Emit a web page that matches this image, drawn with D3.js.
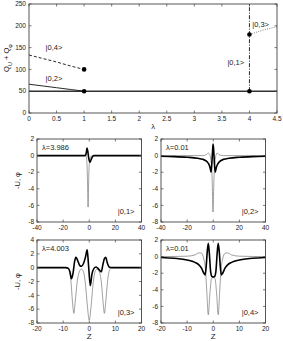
<!DOCTYPE html>
<html>
<head>
<meta charset="utf-8">
<script src="https://cdn.jsdelivr.net/npm/d3@7"></script>
<style>
  body { margin: 0; background: #fff; }
  svg { display: block; font-family: "Liberation Sans", Arial, sans-serif; }
</style>
</head>
<body>
<svg id="chart" width="283" height="341"></svg>
<script>
// Top panel: Q_U + Q_phi versus lambda for the |0,n> branches.
const lambdaTicks = [0, 0.5, 1, 1.5, 2, 2.5, 3, 3.5, 4, 4.5];
const qTicks = [0, 50, 100, 150, 200, 250];
const qBase = [[0, 50], [4.5, 50]];
const q02 = [[0, 66], [0.25, 62], [0.5, 58], [0.75, 54], [1, 50]];
const q04 = [[0, 133], [0.25, 125], [0.5, 117], [0.75, 108], [1, 100]];
const q01 = [[4, 50], [4, 250]];
const q03 = [[4, 180], [4.25, 190], [4.5, 198]];
const qDots = [[1, 100], [1, 50], [4, 50], [4, 180]];
const qLabels = [
  { text: "|0,4>", x: 0.3, y: 150 },
  { text: "|0,2>", x: 0.3, y: 80 },
  { text: "|0,1>", x: 3.6, y: 116 },
  { text: "|0,3>", x: 4.05, y: 203 }
];

// Lower panels: profiles -U (thick) and phi (thin) against z.
const zTicksWide = [-40, -20, 0, 20, 40];
const zTicksNarrow = [-20, -10, 0, 10, 20];
const uTicks2 = [2, 0, -2, -4, -6, -8];
const uTicks4 = [4, 2, 0, -2, -4, -6, -8];

const u01 = [[-40, 0], [-4, 0], [-2.8, 0.05], [-2.2, 0.4], [-1.7, 0.9], [-1.1, 0.5], [-0.3, -0.4], [0.6, -0.8], [1.4, -0.5], [2.4, -0.15], [3.5, 0], [40, 0]];
const p01 = [[-40, 0], [-4, 0], [-2.6, 0.05], [-1.9, -0.6], [-1.4, -2.6], [-0.9, -6.2], [-0.4, -2.6], [0.2, -0.7], [1.2, -0.1], [3, 0], [40, 0]];

const u02 = [[-40, -0.08], [-30, -0.12], [-20, -0.2], [-12, -0.32], [-8, -0.45], [-5, -0.7], [-3.5, -1.0], [-2.5, -1.4], [-1.7, -2.0], [-1.1, -1.0], [-0.5, 0.6], [-0.1, 1.4], [0.4, 0.5], [0.9, -1.0], [1.5, -2.0], [2.4, -1.4], [3.5, -1.0], [5, -0.7], [8, -0.45], [12, -0.32], [20, -0.2], [30, -0.12], [40, -0.08]];
const p02 = [[-40, 0], [-8, 0], [-5.5, 0.1], [-3.8, 0.3], [-2.6, 0.1], [-1.6, -0.8], [-0.8, -3], [-0.2, -6.8], [0.5, -3], [1.3, -0.8], [2.2, 0.1], [3, 0.3], [4.5, 0.1], [8, 0], [40, 0]];

const u03 = [[-20, 0], [-9, 0], [-8, -0.1], [-7.4, -0.6], [-6.8, -1.6], [-6.2, -0.8], [-5.6, 0.9], [-5.1, 1.5], [-4.5, 1.1], [-3.6, 0.3], [-3, 0.2], [-2.2, 0.6], [-1.4, 1.6], [-0.8, 2.6], [-0.3, 0.5], [0.4, -2.6], [1, -1.0], [1.8, -0.1], [2.6, 0.1], [3.6, -0.2], [4.6, -0.6], [5.2, 0.4], [5.8, 1.3], [6.3, 1.5], [6.9, 0.7], [7.6, 0.1], [8.6, 0], [20, 0]];
const p03 = [[-20, 0], [-8.5, 0], [-7.8, -0.3], [-7, -2], [-6.4, -5], [-5.9, -6.6], [-5.4, -5], [-4.6, -2], [-3.8, -0.6], [-3, -0.2], [-2.2, -0.6], [-1.4, -2.6], [-0.7, -5.6], [0, -7.6], [0.7, -5.6], [1.4, -2.6], [2.2, -0.6], [3, -0.2], [3.8, -0.6], [4.6, -2], [5.3, -5], [5.8, -6.6], [6.3, -5], [7, -2], [7.8, -0.3], [8.5, 0], [20, 0]];

const u04 = [[-20, -0.1], [-15, -0.2], [-10, -0.4], [-7, -0.7], [-5.5, -1.0], [-4.5, -1.4], [-3.6, -2.0], [-3.1, -2.2], [-2.7, -1.2], [-2.3, 0.6], [-1.9, 1.6], [-1.5, 0.4], [-1.0, -1.8], [-0.5, -2.4], [0, -2.45], [0.5, -2.4], [1.0, -1.8], [1.5, 0.4], [1.9, 1.6], [2.3, 0.6], [2.7, -1.2], [3.1, -2.2], [3.6, -2.0], [4.5, -1.4], [5.5, -1.0], [7, -0.7], [10, -0.4], [15, -0.2], [20, -0.1]];
const p04 = [[-20, 0], [-10, 0.05], [-7, 0.2], [-5.5, 0.45], [-4.5, 0.4], [-3.6, -0.3], [-3, -1.5], [-2.5, -4], [-1.9, -7], [-1.3, -4.5], [-0.7, -2.7], [0, -2.5], [0.7, -2.7], [1.3, -4.5], [1.9, -7], [2.5, -4], [3, -1.5], [3.6, -0.3], [4.5, 0.4], [5.5, 0.45], [7, 0.2], [10, 0.05], [20, 0]];

const panels = [
  { x0: 37, y0: 139, zDomain: [-40, 40], uDomain: [-8, 2], zTicks: zTicksWide, uTicks: uTicks2, u: u01, p: p01, lam: "\u03bb=3.986", state: "|0,1>", ylabel: true, xlabel: false },
  { x0: 161, y0: 139, zDomain: [-40, 40], uDomain: [-8, 2], zTicks: zTicksWide, uTicks: uTicks2, u: u02, p: p02, lam: "\u03bb=0.01", state: "|0,2>", ylabel: false, xlabel: false },
  { x0: 37, y0: 240, zDomain: [-20, 20], uDomain: [-8, 4], zTicks: zTicksNarrow, uTicks: uTicks4, u: u03, p: p03, lam: "\u03bb=4.003", state: "|0,3>", ylabel: true, xlabel: true },
  { x0: 161, y0: 240, zDomain: [-20, 20], uDomain: [-8, 2], zTicks: zTicksNarrow, uTicks: uTicks2, u: u04, p: p04, lam: "\u03bb=0.01", state: "|0,4>", ylabel: false, xlabel: true }
];

const svg = d3.select("#chart");
const axisColor = "#444";
const tickFont = 6.5;
const labelFont = 7.5;

// draw box with inward ticks on all four sides, matlab style
function frame(g, x, y, xTicks, yTicks, fmtX) {
  const [xa, xb] = x.range();
  const [yb, ya] = y.range();
  g.append("rect")
    .attr("x", xa).attr("y", ya)
    .attr("width", xb - xa).attr("height", yb - ya)
    .attr("fill", "none").attr("stroke", axisColor).attr("stroke-width", 0.9);

  const tl = 2.5;
  xTicks.forEach(t => {
    const px = x(t);
    g.append("line").attr("x1", px).attr("x2", px).attr("y1", yb).attr("y2", yb - tl)
      .attr("stroke", axisColor).attr("stroke-width", 0.7);
    g.append("line").attr("x1", px).attr("x2", px).attr("y1", ya).attr("y2", ya + tl)
      .attr("stroke", axisColor).attr("stroke-width", 0.7);
    g.append("text").attr("x", px).attr("y", yb + 7.5)
      .attr("text-anchor", "middle").attr("font-size", tickFont).attr("fill", "#222")
      .text(fmtX ? fmtX(t) : t);
  });
  yTicks.forEach(t => {
    const py = y(t);
    g.append("line").attr("x1", xa).attr("x2", xa + tl).attr("y1", py).attr("y2", py)
      .attr("stroke", axisColor).attr("stroke-width", 0.7);
    g.append("line").attr("x1", xb).attr("x2", xb - tl).attr("y1", py).attr("y2", py)
      .attr("stroke", axisColor).attr("stroke-width", 0.7);
    g.append("text").attr("x", xa - 3).attr("y", py).attr("dy", "0.35em")
      .attr("text-anchor", "end").attr("font-size", tickFont).attr("fill", "#222")
      .text(t);
  });
}

// ---- top panel ----
const xL = d3.scaleLinear().domain([0, 4.5]).range([29, 277]);
const yQ = d3.scaleLinear().domain([0, 250]).range([113, 4]);
const topG = svg.append("g");
const qLine = d3.line().x(d => xL(d[0])).y(d => yQ(d[1])).curve(d3.curveMonotoneX);
const qLineStraight = d3.line().x(d => xL(d[0])).y(d => yQ(d[1]));

topG.append("path").attr("d", qLine(qBase)).attr("fill", "none").attr("stroke", "#333").attr("stroke-width", 1.6);
topG.append("path").attr("d", qLine(q02)).attr("fill", "none").attr("stroke", "#111").attr("stroke-width", 0.9);
topG.append("path").attr("d", qLine(q04)).attr("fill", "none").attr("stroke", "#111").attr("stroke-width", 0.9).attr("stroke-dasharray", "3,2");
topG.append("path").attr("d", qLineStraight(q01)).attr("fill", "none").attr("stroke", "#111").attr("stroke-width", 0.9).attr("stroke-dasharray", "4,1.5,1,1.5");
topG.append("path").attr("d", qLine(q03)).attr("fill", "none").attr("stroke", "#666").attr("stroke-width", 0.8).attr("stroke-dasharray", "1,1.3");

frame(topG, xL, yQ, lambdaTicks, qTicks);

topG.selectAll(".dot").data(qDots).join("circle")
  .attr("cx", d => xL(d[0])).attr("cy", d => yQ(d[1])).attr("r", 2.3).attr("fill", "#000");

topG.selectAll(".qlab").data(qLabels).join("text")
  .attr("x", d => xL(d.x)).attr("y", d => yQ(d.y)).attr("dy", "0.35em")
  .attr("font-size", labelFont).attr("fill", "#222").text(d => d.text);

topG.append("text").attr("x", 153).attr("y", 129).attr("text-anchor", "middle")
  .attr("font-size", labelFont).attr("fill", "#222").text("\u03bb");

const qy = topG.append("text").attr("transform", "translate(9,58) rotate(-90)")
  .attr("text-anchor", "middle").attr("font-size", labelFont).attr("fill", "#222");
qy.append("tspan").text("Q");
qy.append("tspan").attr("baseline-shift", "sub").attr("font-size", 5.5).text("U");
qy.append("tspan").text(" + Q");
qy.append("tspan").attr("baseline-shift", "sub").attr("font-size", 5.5).text("\u03c6");

// ---- profile panels ----
const pw = 104.5, ph = 83;
panels.forEach(p => {
  const g = svg.append("g");
  const x = d3.scaleLinear().domain(p.zDomain).range([p.x0, p.x0 + pw]);
  const y = d3.scaleLinear().domain(p.uDomain).range([p.y0 + ph, p.y0]);
  const line = d3.line().x(d => x(d[0])).y(d => y(d[1])).curve(d3.curveMonotoneX);

  g.append("path").attr("d", line(p.p)).attr("fill", "none").attr("stroke", "#777").attr("stroke-width", 0.7);
  g.append("path").attr("d", line(p.u)).attr("fill", "none").attr("stroke", "#000").attr("stroke-width", 1.6);

  frame(g, x, y, p.zTicks, p.uTicks);

  g.append("text").attr("x", p.x0 + 5).attr("y", p.y0 + 10.5)
    .attr("font-size", labelFont).attr("fill", "#222").text(p.lam);
  g.append("text").attr("x", p.x0 + pw - 7).attr("y", p.y0 + ph - 8)
    .attr("text-anchor", "end").attr("font-size", labelFont).attr("fill", "#222").text(p.state);

  if (p.ylabel) {
    g.append("text").attr("transform", `translate(20,${p.y0 + ph / 2}) rotate(-90)`)
      .attr("text-anchor", "middle").attr("font-size", labelFont).attr("fill", "#222")
      .text("-U, \u03c6");
  }
  if (p.xlabel) {
    g.append("text").attr("x", p.x0 + pw / 2).attr("y", p.y0 + ph + 15.5)
      .attr("text-anchor", "middle").attr("font-size", labelFont + 0.5).attr("fill", "#222").text("Z");
  }
});
</script>
</body>
</html>
